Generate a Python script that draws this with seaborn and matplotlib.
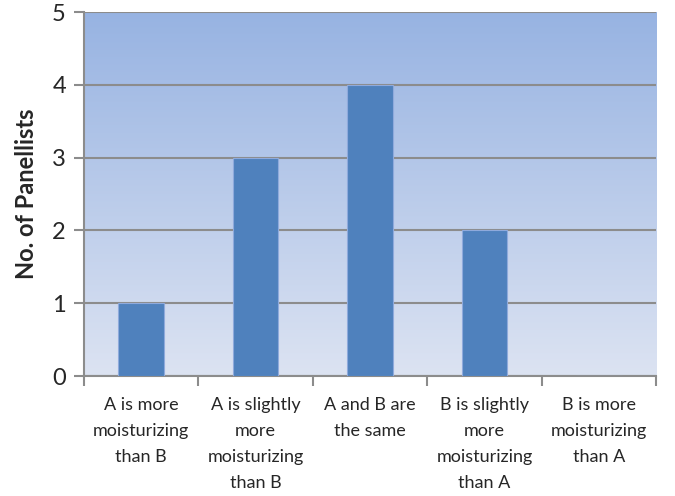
import matplotlib
matplotlib.use("Agg")
import matplotlib.pyplot as plt
import numpy as np
import seaborn as sns
from matplotlib.colors import LinearSegmentedColormap
from matplotlib.ticker import FixedLocator

# Data
categories = [
    "A is more\nmoisturizing\nthan B",
    "A is slightly\nmore\nmoisturizing\nthan B",
    "A and B are\nthe same",
    "B is slightly\nmore\nmoisturizing\nthan A",
    "B is more\nmoisturizing\nthan A",
]
panellists = [1, 3, 4, 2, 0]

sns.set_style("white")
plt.rcParams["font.family"] = ["Lato", "DejaVu Sans"]

fig = plt.figure(figsize=(6.75, 4.96), dpi=100)
ax = fig.add_axes([0.1244, 0.2419, 0.8475, 0.7339])

# Gradient plot-area background (dark blue at top, pale at bottom)
grad = LinearSegmentedColormap.from_list("bg", ["#DCE3F2", "#97B3E2"])
ax.imshow(np.linspace(0, 1, 256).reshape(-1, 1), cmap=grad, origin="lower",
          extent=[0, 1, 0, 1], transform=ax.transAxes, aspect="auto", zorder=0)

sns.barplot(x=categories, y=panellists, order=categories, color="#4F81BD",
            width=0.4, saturation=1, edgecolor="#8FAADC", linewidth=0.8,
            ax=ax, zorder=3)

ax.set_xlim(-0.5, len(categories) - 0.5)
ax.set_ylim(0, 5)
ax.set_yticks(range(6))
ax.yaxis.grid(True, color="#8C8C8C", linewidth=1.5, zorder=1)
ax.set_axisbelow(True)

for side in ["top", "right"]:
    ax.spines[side].set_visible(False)
for side in ["left", "bottom"]:
    ax.spines[side].set_color("#8C8C8C")
    ax.spines[side].set_linewidth(1.5)

# Tick marks sit between categories, labels at the centres
ax.xaxis.set_minor_locator(FixedLocator(np.arange(-0.5, len(categories), 1)))
ax.tick_params(axis="x", which="major", length=0, pad=15, labelsize=13)
ax.tick_params(axis="x", which="minor", length=7, width=1.5, color="#8C8C8C",
               bottom=True)
ax.tick_params(axis="y", length=7, width=1.5, color="#8C8C8C", left=True,
               labelsize=17, pad=6)
for lbl in ax.get_xticklabels():
    lbl.set_linespacing(1.78)

ax.set_ylabel("No. of Panellists", fontsize=17, fontweight="bold", labelpad=10)
ax.set_xlabel("")

fig.savefig("out.png", dpi=100)
